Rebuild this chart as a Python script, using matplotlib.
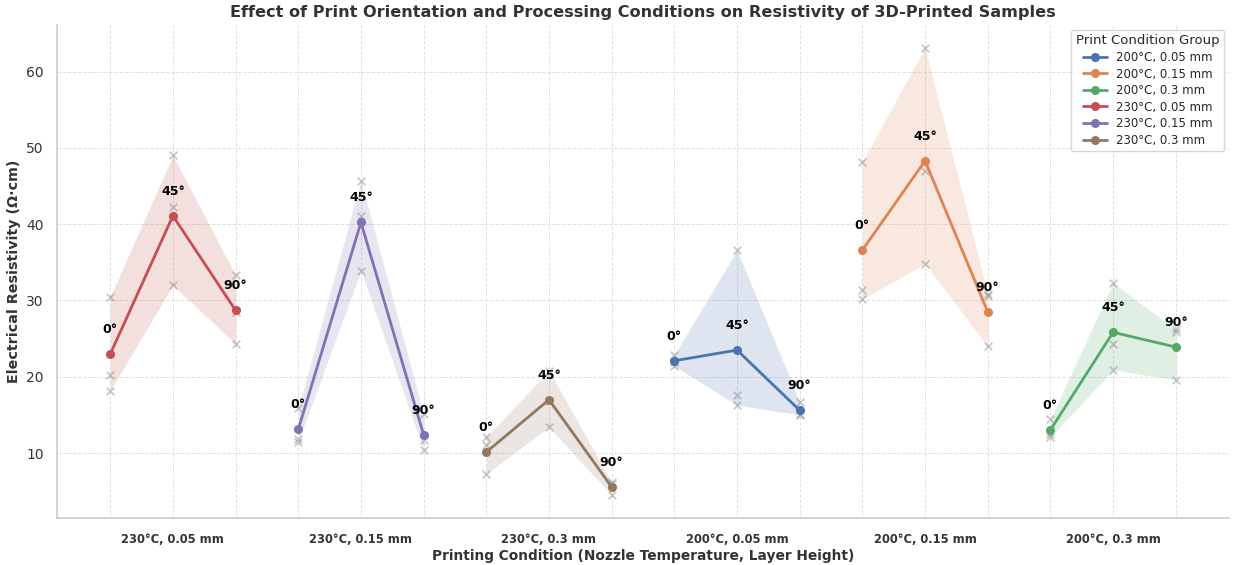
import matplotlib
matplotlib.use("Agg")
import matplotlib.pyplot as plt
import numpy as np
import seaborn as sns

# groups in plotting order along the x axis
groups = ["230°C, 0.05 mm", "230°C, 0.15 mm", "230°C, 0.3 mm",
          "200°C, 0.05 mm", "200°C, 0.15 mm", "200°C, 0.3 mm"]
orientations = ["0°", "45°", "90°"]

# three sample resistivities (Ω·cm) per orientation, per group
samples = {
    "230°C, 0.05 mm": [[30.5, 20.2, 18.2], [49.0, 42.3, 32.0], [33.3, 28.5, 24.3]],
    "230°C, 0.15 mm": [[15.9, 11.9, 11.5], [45.7, 41.1, 33.9], [15.1, 11.7, 10.4]],
    "230°C, 0.3 mm": [[12.1, 11.0, 7.3], [20.8, 16.8, 13.4], [6.2, 6.0, 4.5]],
    "200°C, 0.05 mm": [[22.9, 22.0, 21.4], [36.6, 17.6, 16.3], [16.7, 15.1, 15.0]],
    "200°C, 0.15 mm": [[48.2, 31.4, 30.2], [63.1, 47.0, 34.8], [30.9, 30.6, 24.0]],
    "200°C, 0.3 mm": [[14.5, 12.5, 12.1], [32.3, 24.3, 20.9], [26.2, 25.9, 19.6]],
}

legend_order = sorted(groups)

sns.set_theme(style="whitegrid")
plt.rcParams["font.family"] = ["DejaVu Sans"]
palette = sns.color_palette("deep", 6)
colors = {g: palette[i] for i, g in enumerate(legend_order)}

fig = plt.figure(figsize=(12.33, 5.65), dpi=100)
ax = fig.add_axes([0.0462, 0.0832, 0.9506, 0.8726])

handles = {}
for gi, g in enumerate(groups):
    vals = np.array(samples[g])
    xs = gi * 3 + np.arange(3)
    means = vals.mean(axis=1)
    ax.fill_between(xs, vals.min(axis=1), vals.max(axis=1), color=colors[g], alpha=0.18, linewidth=0)
    for j in range(3):
        ax.scatter([xs[j]] * 3, vals[j], marker="x", color="gray", alpha=0.45, s=30, linewidths=1.2, zorder=2)
    (line,) = ax.plot(xs, means, marker="o", markersize=5.5, linewidth=2, color=colors[g], label=g, zorder=3)
    handles[g] = line
    for j in range(3):
        ax.annotate(orientations[j], (xs[j], means[j]), xytext=(0, 13), textcoords="offset points",
                    ha="center", va="bottom", fontsize=9, fontweight="bold", color="black", zorder=4)

ax.set_xlim(-0.85, 17.85)
ax.set_ylim(1.5, 66.1)
ax.set_yticks([10, 20, 30, 40, 50, 60])
ax.set_xticks([gi * 3 + 1 for gi in range(6)])
ax.set_xticklabels(groups, fontsize=8.3, fontweight="bold", color="#333333")
ax.set_xticks(np.arange(18), minor=True)
ax.tick_params(axis="y", labelsize=10, colors="#333333")
ax.tick_params(axis="x", which="major", pad=5)
ax.grid(True, which="both", linestyle="--", linewidth=0.7, color="#dddddd", alpha=0.9)
ax.grid(False, axis="y", which="minor")

for s in ["top", "right"]:
    ax.spines[s].set_visible(False)
for s in ["left", "bottom"]:
    ax.spines[s].set_color("#cccccc")
    ax.spines[s].set_linewidth(1.2)

ax.set_xlabel("Printing Condition (Nozzle Temperature, Layer Height)", fontsize=9.9, fontweight="bold",
              color="#333333", labelpad=2)
ax.set_ylabel("Electrical Resistivity (Ω·cm)", fontsize=10.3, fontweight="bold", color="#333333")
ax.set_title("Effect of Print Orientation and Processing Conditions on Resistivity of 3D-Printed Samples",
             fontsize=11.6, fontweight="bold", color="#333333", pad=6)

ax.legend([handles[g] for g in legend_order], legend_order, title="Print Condition Group",
          loc="upper right", fontsize=8.5, title_fontsize=9.5, frameon=True, borderaxespad=0.4,
          labelspacing=0.3)

fig.savefig("out.png", dpi=100)
